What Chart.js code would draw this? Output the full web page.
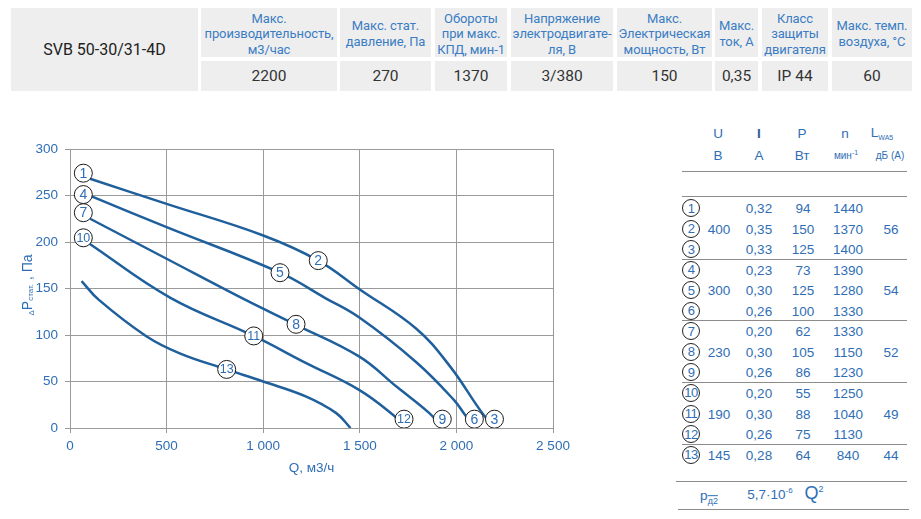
<!DOCTYPE html>
<html lang="ru">
<head>
<meta charset="utf-8">
<title>SVB 50-30/31-4D</title>
<script src="https://cdn.jsdelivr.net/npm/chart.js@4.4.1/dist/chart.umd.min.js"></script>
<style>
  body { margin: 0; width: 921px; height: 519px; overflow: hidden; background: #fff; position: relative; font-family: Roboto, sans-serif; }
  .cell { position: absolute; background: #eeeeee; display: flex; align-items: center; justify-content: center; text-align: center; white-space: pre-line; }
  .hd { color: #3b7dc4; font-size: 13px; line-height: 15.6px; letter-spacing: -0.1px; }
  .val { color: #333; font-size: 15.5px; }
  #chartBox { position: absolute; left: 0; top: 100px; width: 600px; height: 400px; }
  .t { position: absolute; font-family: "Liberation Sans", Arial, sans-serif; color: #2f6eb5; font-size: 13.5px; transform: translate(-50%, -50%); white-space: nowrap; }
  .hr { position: absolute; height: 0; border-top: 1px solid #8c8c8c; }
  .circ { position: absolute; width: 16px; height: 16px; border: 1px solid #222; border-radius: 50%; background: #fff;
          transform: translate(-50%, -50%); display: flex; align-items: center; justify-content: center;
          font-family: "Liberation Sans", Arial, sans-serif; color: #2f6eb5; font-size: 13px; letter-spacing: -0.5px; }
  sub, sup { font-size: 9px; }
</style>
</head>
<body>
<div id="head"></div>
<div id="chartBox"><canvas id="myChart" width="600" height="400"></canvas></div>
<div id="tbl"></div>

<script>
// header table
var model = "SVB 50-30/31-4D"
var headTitles = [
  "Макс.\nпроизводительность,\nм3/час",
  "Макс. стат.\nдавление, Па",
  "Обороты\nпри макс.\nКПД, мин-1",
  "Напряжение\nэлектродвигате-\nля, В",
  "Макс.\nЭлектрическая\nмощность, Вт",
  "Макс.\nток, А",
  "Класс\nзащиты\nдвигателя",
  "Макс. темп.\nвоздуха, °С"
]
var headValues = ["2200", "270", "1370", "3/380", "150", "0,35", "IP 44", "60"]

// curves 1-2-3, 4-5-6, 7-8-9, 10-11-12 and 13 (Q м3/ч, P Па)
var q1 = [104, 500, 1000, 1285, 1500, 1791, 1968, 2141, 2209]
var p1 = [268, 241, 207, 180, 149, 107, 66, 14, 0]
var q4 = [112, 500, 1087, 1319, 1496, 1791, 1988, 2045, 2096]
var p4 = [249, 216, 167, 140, 119, 71, 30, 14, 0]
var q7 = [104, 500, 906, 1170, 1496, 1693, 1860, 1931]
var p7 = [225, 182, 138, 111, 77, 44, 16, 0]
var q10 = [95, 520, 951, 1220, 1496, 1673, 1743]
var p10 = [199, 140, 99, 70, 41, 14, 0]
var q13 = [60, 148, 393, 571, 811, 1000, 1220, 1378, 1452]
var p13 = [158, 138, 99, 80, 63, 50, 34, 16, 0]

// numbered markers on the curves
var markNames = ["1", "2", "3", "4", "5", "6", "7", "8", "9", "10", "11", "12", "13"]
var markQ = [69, 1285, 2197, 69, 1087, 2093, 69, 1170, 1927, 69, 951, 1729, 811]
var markP = [274, 180, 9.5, 251, 167, 9.5, 231.5, 111.5, 9.5, 204.5, 99, 9.5, 63]

var xTicks = [0, 500, 1000, 1500, 2000, 2500]

// table on the right
var tblU = ["400", "300", "230", "190", "145"]
var tblI = ["0,32", "0,35", "0,33", "0,23", "0,30", "0,26", "0,20", "0,30", "0,26", "0,20", "0,30", "0,26", "0,28"]
var tblP = ["94", "150", "125", "73", "125", "100", "62", "105", "86", "55", "88", "75", "64"]
var tblN = ["1440", "1370", "1400", "1390", "1280", "1330", "1330", "1150", "1230", "1250", "1040", "1130", "840"]
var tblL = ["56", "54", "52", "49", "44"]
var groupMid = [1, 4, 7, 10, 12]

// ---- header ----
var cols = [[201, 337], [340, 431], [435, 507], [511, 613], [617, 712], [715, 758], [762, 828], [832, 912]]
var head = document.getElementById("head")
var html = '<div class="cell val" style="left:11px;top:8px;width:187px;height:83px;font-size:16px;color:#222">' + model + '</div>'
for (let i = 0; i < cols.length; i++) {
  var w = cols[i][1] - cols[i][0]
  html += '<div class="cell hd" style="left:' + cols[i][0] + 'px;top:8px;width:' + w + 'px;height:49px;padding-top:3px;box-sizing:border-box">' + headTitles[i] + '</div>'
  html += '<div class="cell val" style="left:' + cols[i][0] + 'px;top:61px;width:' + w + 'px;height:30px">' + headValues[i] + '</div>'
}
head.innerHTML = html

// ---- right table ----
function txt(x, y, s, extra) {
  return '<div class="t" style="left:' + x + 'px;top:' + y + 'px;' + (extra || '') + '">' + s + '</div>'
}
function line(x1, x2, y) {
  return '<div class="hr" style="left:' + x1 + 'px;top:' + y + 'px;width:' + (x2 - x1) + 'px"></div>'
}
var th = ''
th += txt(718, 133, "U") + txt(759, 133, "I", "font-weight:bold;color:#2a5d95") + txt(802, 133, "P") + txt(845, 133, "n")
th += txt(882, 133, "L<sub style='font-size:7px'>WA5</sub>")
th += txt(718, 155, "В") + txt(759, 155, "А") + txt(802, 155, "Вт")
th += txt(846, 155, "мин<sup style='font-size:7px'>-1</sup>", "font-size:10px") + txt(890, 155, "дБ (А)", "font-size:10px")
th += line(682, 907, 171) + line(682, 907, 196)
for (let i = 0; i < 13; i++) {
  var y = 208 + i * 20.55
  th += '<div class="circ" style="left:691px;top:' + y + 'px">' + (i + 1) + '</div>'
  th += txt(759, y, tblI[i]) + txt(803, y, tblP[i]) + txt(848, y, tblN[i])
}
for (let g = 0; g < groupMid.length; g++) {
  var yy = 208 + groupMid[g] * 20.55
  th += txt(719, yy, tblU[g]) + txt(891, yy, tblL[g])
}
th += line(682, 907, 259) + line(682, 907, 320) + line(682, 907, 382) + line(682, 907, 444)
th += line(676, 907, 481) + line(678, 909, 509)
th += txt(709, 497, "p<sub style='font-size:9px;text-decoration:overline'>д2</sub>")
th += txt(770, 494, "5,7·10<sup style='font-size:8px'>-6</sup>")
th += txt(814, 493, "Q<sup style='font-size:9px'>2</sup>", "font-size:18px")
document.getElementById("tbl").innerHTML = th

// ---- chart ----
function pts(q, p) {
  var arr = []
  for (let i = 0; i < q.length; i++) arr.push({ x: q[i], y: p[i] })
  return arr
}
var blue = "#1f5f9c"
var textBlue = "#2f6eb5"
var gridGrey = "#9a9a9a"
var curveStyle = { showLine: true, borderColor: blue, borderWidth: 2.5, pointRadius: 0, tension: 0.4, fill: false }

var markerLabels = {
  id: "markerLabels",
  afterDatasetsDraw(chart) {
    var ctx = chart.ctx
    var meta = chart.getDatasetMeta(0)
    ctx.save()
    ctx.fillStyle = textBlue
    ctx.textAlign = "center"
    ctx.textBaseline = "middle"
    meta.data.forEach(function (el, i) {
      var s = markNames[i]
      ctx.font = (s.length > 1 ? "12.5px" : "14px") + ' "Liberation Sans", Arial, sans-serif'
      ctx.fillText(s, el.x, el.y + 0.5)
    })
    ctx.restore()
  }
}

var axisTitles = {
  id: "axisTitles",
  afterDraw(chart) {
    var ctx = chart.ctx
    var a = chart.chartArea
    ctx.save()
    ctx.fillStyle = textBlue
    ctx.textBaseline = "alphabetic"
    ctx.font = '13.5px "Liberation Sans", Arial, sans-serif'
    ctx.textAlign = "center"
    ctx.fillText("Q, м3/ч", (a.left + a.right) / 2, 372)
    // rotated y title
    var parts = [
      { t: "Δ", f: 8, dy: 2 },
      { t: "P", f: 14, dy: 0 },
      { t: "стат.", f: 8, dy: 1 },
      { t: " , Па", f: 14, dy: 0 }
    ]
    ctx.textAlign = "left"
    var total = 0
    parts.forEach(function (p) { ctx.font = p.f + 'px "Liberation Sans", Arial, sans-serif'; p.w = ctx.measureText(p.t).width; total += p.w })
    ctx.translate(32, 185)
    ctx.rotate(-Math.PI / 2)
    var x = -total / 2
    parts.forEach(function (p) {
      ctx.font = p.f + 'px "Liberation Sans", Arial, sans-serif'
      ctx.fillText(p.t, x, p.dy)
      x += p.w
    })
    ctx.restore()
  }
}

const ctx = document.getElementById("myChart")

new Chart(ctx, {
  type: "scatter",
  data: {
    datasets: [
      {
        label: "marks",
        data: pts(markQ, markP),
        showLine: false,
        pointRadius: 9,
        pointBackgroundColor: "#ffffff",
        pointBorderColor: "#1a1a1a",
        pointBorderWidth: 1
      },
      Object.assign({ label: "1-2-3", data: pts(q1, p1) }, curveStyle),
      Object.assign({ label: "4-5-6", data: pts(q4, p4) }, curveStyle),
      Object.assign({ label: "7-8-9", data: pts(q7, p7) }, curveStyle),
      Object.assign({ label: "10-11-12", data: pts(q10, p10) }, curveStyle),
      Object.assign({ label: "13", data: pts(q13, p13) }, curveStyle)
    ]
  },
  options: {
    responsive: false,
    animation: false,
    devicePixelRatio: 1,
    layout: { padding: { left: 0, right: 47, top: 49, bottom: 0 } },
    plugins: { legend: { display: false }, tooltip: { enabled: false } },
    scales: {
      x: {
        type: "linear",
        min: 0,
        max: 2500,
        afterFit: function (s) { s.height = 72 },
        afterBuildTicks: function (s) { s.ticks = xTicks.map(function (v) { return { value: v } }) },
        ticks: {
          color: textBlue,
          padding: 5,
          maxRotation: 0,
          font: { family: '"Liberation Sans", Arial, sans-serif', size: 13.5 },
          callback: function (v) { return v >= 1000 ? String(v).replace(/(\d)(\d{3})$/, "$1 $2") : String(v) }
        },
        grid: { color: gridGrey, tickLength: 5, lineWidth: 1 },
        border: { color: gridGrey }
      },
      y: {
        min: 0,
        max: 300,
        afterFit: function (s) { s.width = 70 },
        ticks: {
          stepSize: 50,
          color: textBlue,
          padding: 7,
          font: { family: '"Liberation Sans", Arial, sans-serif', size: 13.5 }
        },
        grid: { color: gridGrey, tickLength: 5, lineWidth: 1 },
        border: { color: gridGrey }
      }
    }
  },
  plugins: [markerLabels, axisTitles]
});
</script>
</body>
</html>
